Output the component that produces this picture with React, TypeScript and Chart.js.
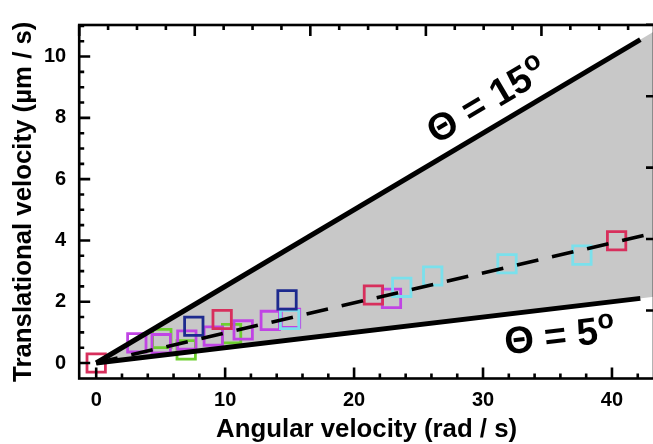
import React, { useEffect, useRef } from 'react';
import { Chart, registerables } from 'chart.js';

Chart.register(...registerables);

// ---- data ----
const redX = [0, 9.77, 21.5, 40.36];
const redY = [0, 1.42, 2.22, 3.99];
const purpleX = [3.15, 5.04, 7.03, 9.08, 11.4, 13.5, 15.07, 22.9];
const purpleY = [0.66, 0.63, 0.75, 0.88, 1.08, 1.39, 1.46, 2.11];
const greenX = [5.09, 6.98, 10.5];
const greenY = [0.8, 0.43, 0.96];
const navyX = [7.57, 14.8];
const navyY = [1.2, 2.06];
const cyanX = [15.0, 23.7, 26.1, 31.86, 37.67];
const cyanY = [1.42, 2.47, 2.84, 3.24, 3.52];

const upperX = [0, 42.2];
const upperY = [0, 10.55];
const lowerX = [0, 42.2];
const lowerY = [0, 2.11];
const fitX = [0, 43.26];
const fitY = [0, 4.24];
const shadeX = [0, 43.26];
const shadeUpperY = [0, 10.82];
const shadeLowerY = [0, 2.165];

// ---- axes ----
const X_MIN = -1.318;
const X_MAX = 43.26;
const Y_MIN = -0.505;
const Y_MAX = 11.03;
const xTicks = [0, 10, 20, 30, 40];
const yTicks = [0, 2, 4, 6, 8, 10];
const xMinorStep = 2;
const yMinorStep = 0.5;
const topMin = 0;
const topMax = 4.974;
const topMajor = [0, 1, 2, 3, 4];
const topMinorStep = 0.25;
const rightMin = 0.048;
const rightMax = 4.997;
const rightMajor = [1, 2, 3, 4, 5];

const xTitle = 'Angular velocity (rad / s)';
const yTitle = 'Translational velocity (µm / s)';
const label15 = 'Θ = 15';
const label5 = 'Θ = 5';
const labelSup = 'o';
const label15Pos = [29.8, 8.38];
const label5Pos = [35.3, 0.8];

const FONT = '"Liberation Sans", Arial, Helvetica, sans-serif';

const pts = (xs: number[], ys: number[]) => xs.map((x, i) => ({ x, y: ys[i] }));

const frameTicksPlugin = {
  id: 'frameTicks',
  afterDatasetsDraw(chart: any) {
    const { ctx, chartArea: a, scales } = chart;
    const xs = scales.x, ys = scales.y, x2 = scales.x2, y2 = scales.y2;
    ctx.save();
    ctx.strokeStyle = '#000';
    ctx.lineWidth = 2.6;
    ctx.beginPath();
    for (let i = 0; i * xMinorStep <= X_MAX; i++) {
      const v = i * xMinorStep;
      const p = xs.getPixelForValue(v);
      const L = xTicks.includes(v) ? 11 : 5;
      ctx.moveTo(p, a.bottom);
      ctx.lineTo(p, a.bottom - L);
    }
    for (let i = 0; i * yMinorStep <= Y_MAX; i++) {
      const v = i * yMinorStep;
      const p = ys.getPixelForValue(v);
      const L = yTicks.includes(v) ? 11 : 5;
      ctx.moveTo(a.left, p);
      ctx.lineTo(a.left + L, p);
    }
    for (let i = 0; i * topMinorStep <= topMax; i++) {
      const v = i * topMinorStep;
      const p = x2.getPixelForValue(v);
      const L = topMajor.includes(v) ? 11 : 5;
      ctx.moveTo(p, a.top);
      ctx.lineTo(p, a.top + L);
    }
    rightMajor.forEach((v) => {
      const p = y2.getPixelForValue(v);
      ctx.moveTo(a.right, p);
      ctx.lineTo(a.right - 8, p);
    });
    ctx.stroke();
    ctx.strokeRect(a.left, a.top, a.right - a.left, a.bottom - a.top);

    const drawLabel = (main: string, pos: number[], lx: number[], ly: number[]) => {
      const px = xs.getPixelForValue(pos[0]);
      const py = ys.getPixelForValue(pos[1]);
      const ang = Math.atan2(
        ys.getPixelForValue(ly[1]) - ys.getPixelForValue(ly[0]),
        xs.getPixelForValue(lx[1]) - xs.getPixelForValue(lx[0])
      );
      ctx.save();
      ctx.translate(px, py);
      ctx.rotate(ang);
      ctx.fillStyle = '#000';
      ctx.textAlign = 'center';
      ctx.textBaseline = 'middle';
      ctx.font = `bold 38px ${FONT}`;
      ctx.fillText(main, 0, 0);
      const w = ctx.measureText(main).width;
      ctx.font = `bold 27px ${FONT}`;
      ctx.fillText(labelSup, w / 2 + 9, -11);
      ctx.restore();
    };
    drawLabel(label15, label15Pos, upperX, upperY);
    drawLabel(label5, label5Pos, lowerX, lowerY);
    ctx.restore();
  },
};

export default function App() {
  const ref = useRef<HTMLCanvasElement>(null);

  useEffect(() => {
    if (!ref.current) return;
    const markerDs = (label: string, xs: number[], ys: number[], color: string, order: number) => ({
      label,
      data: pts(xs, ys),
      showLine: false,
      pointStyle: 'rect',
      pointRadius: 13,
      pointHoverRadius: 13,
      pointBorderWidth: 2.8,
      pointBorderColor: color,
      pointBackgroundColor: 'rgba(0,0,0,0)',
      borderColor: color,
      backgroundColor: 'rgba(0,0,0,0)',
      order,
    });
    const lineDs = (label: string, xs: number[], ys: number[], width: number, dash: number[], order: number) => ({
      label,
      data: pts(xs, ys),
      showLine: true,
      borderColor: '#000',
      borderWidth: width,
      borderDash: dash,
      borderCapStyle: 'butt',
      pointRadius: 0,
      fill: false,
      tension: 0,
      order,
    });

    const chart = new Chart(ref.current, {
      type: 'line',
      data: {
        datasets: [
          {
            label: 'shadeUpper',
            data: pts(shadeX, shadeUpperY),
            borderWidth: 0,
            borderColor: 'rgba(0,0,0,0)',
            pointRadius: 0,
            backgroundColor: '#c8c8c8',
            fill: '+1',
            order: 20,
          },
          {
            label: 'shadeLower',
            data: pts(shadeX, shadeLowerY),
            borderWidth: 0,
            borderColor: 'rgba(0,0,0,0)',
            pointRadius: 0,
            fill: false,
            order: 20,
          },
          markerDs('green', greenX, greenY, '#6dcf2f', 9),
          markerDs('purple', purpleX, purpleY, '#c044e4', 8),
          markerDs('cyan', cyanX, cyanY, '#7ae0ec', 7),
          markerDs('navy', navyX, navyY, '#1d2a8e', 6),
          markerDs('red', redX, redY, '#d72f5c', 5),
          lineDs('fit', fitX, fitY, 3.6, [22, 14], 2),
          lineDs('upper', upperX, upperY, 5, [], 1),
          lineDs('lower', lowerX, lowerY, 5, [], 1),
        ],
      } as any,
      options: {
        animation: false,
        responsive: true,
        maintainAspectRatio: false,
        layout: { autoPadding: false, padding: { left: 0, right: 1, top: 17.8, bottom: 0 } },
        plugins: {
          legend: { display: false },
          tooltip: { enabled: false },
        },
        events: [],
        scales: {
          x: {
            type: 'linear',
            position: 'bottom',
            min: X_MIN,
            max: X_MAX,
            grid: { display: false, drawTicks: false },
            border: { display: false },
            afterBuildTicks: (s: any) => {
              s.ticks = xTicks.map((v) => ({ value: v }));
            },
            afterFit: (s: any) => {
              s.height = 65.5;
            },
            ticks: {
              color: '#000',
              padding: 10,
              maxRotation: 0,
              font: { family: FONT, size: 20, weight: 'bold' },
            },
            title: {
              display: true,
              text: xTitle,
              color: '#000',
              padding: { top: 0, bottom: -1 },
              font: { family: FONT, size: 25.8, weight: 'bold' },
            },
          },
          y: {
            type: 'linear',
            position: 'left',
            min: Y_MIN,
            max: Y_MAX,
            grid: { display: false, drawTicks: false },
            border: { display: false },
            afterBuildTicks: (s: any) => {
              s.ticks = yTicks.map((v) => ({ value: v }));
            },
            afterFit: (s: any) => {
              s.width = 79.2;
            },
            ticks: {
              color: '#000',
              padding: 13,
              font: { family: FONT, size: 20, weight: 'bold' },
            },
            title: {
              display: true,
              text: yTitle,
              color: '#000',
              padding: { top: 8, bottom: 0 },
              font: { family: FONT, size: 25.8, weight: 'bold' },
            },
          },
          x2: {
            type: 'linear',
            axis: 'x',
            position: 'top',
            display: false,
            min: topMin,
            max: topMax,
          },
          y2: {
            type: 'linear',
            axis: 'y',
            position: 'right',
            display: false,
            min: rightMin,
            max: rightMax,
          },
        },
      } as any,
      plugins: [frameTicksPlugin],
    });
    return () => chart.destroy();
  }, []);

  return (
    <div
      style={{
        position: 'fixed',
        left: 0,
        top: 0,
        width: 653,
        height: 444,
        overflow: 'hidden',
        background: '#fff',
      }}
    >
      <div style={{ position: 'relative', width: 655, height: 444 }}>
        <canvas ref={ref} />
      </div>
    </div>
  );
}
